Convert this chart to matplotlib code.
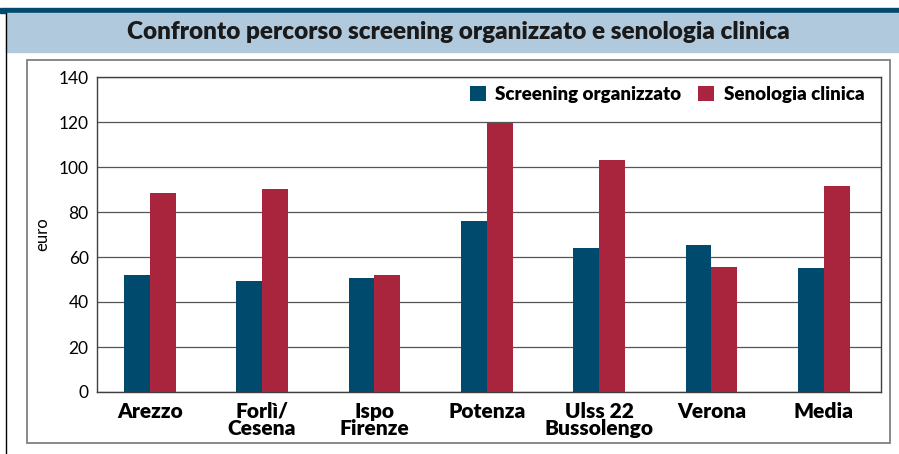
import numpy as np
import matplotlib.pyplot as plt
from matplotlib.patches import Rectangle

# Data
categories = ["Arezzo", "Forlì/\nCesena", "Ispo\nFirenze", "Potenza",
              "Ulss 22\nBussolengo", "Verona", "Media"]
screening = [52, 49.3, 50.7, 76, 64, 65.3, 55.1]
senologia = [88.4, 90.2, 52, 119.6, 103.1, 55.6, 91.6]
yticks = [0, 20, 40, 60, 80, 100, 120, 140]

blue = "#004a6d"
red = "#a8253d"

plt.rcParams['font.family'] = ['Lato', 'DejaVu Sans']

W, H = 899, 454
fig = plt.figure(figsize=(W / 100, H / 100), dpi=100)

def box(x0, y0, x1, y1):
    # pixel coords (top-left origin) -> figure fraction
    return [x0 / W, 1 - y1 / H, (x1 - x0) / W, (y1 - y0) / H]

# Header bands
fig.patches.append(Rectangle((0, 1 - 13 / H), 1, 5 / H, transform=fig.transFigure,
                             color="#004a6d", zorder=0))
fig.patches.append(Rectangle((6 / W, 1 - 52 / H), 1, 39 / H, transform=fig.transFigure,
                             color="#b0c9dd", zorder=0))
fig.text(458 / W, 1 - 32 / H, "Confronto percorso screening organizzato e senologia clinica",
         ha="center", va="center", fontsize=17.5, fontweight="heavy", color="#1a1a1a")

# Left black rule
fig.lines.append(plt.Line2D([6 / W, 6 / W], [0, 1 - 13 / H], transform=fig.transFigure,
                            color="black", lw=1))
# Inner gray frame
fig.patches.append(Rectangle((27 / W, 1 - 443 / H), 863 / W, 383 / H, transform=fig.transFigure,
                             fill=False, edgecolor="#808080", lw=1.3))

ax = fig.add_axes(box(97, 77, 881, 392))
x = np.arange(len(categories))
w = 0.23
ax.bar(x - w / 2, screening, w, color=blue, label="Screening organizzato", zorder=3)
ax.bar(x + w / 2, senologia, w, color=red, label="Senologia clinica", zorder=3)

ax.set_xlim(-0.47, 6.51)
ax.set_ylim(0, 140)
ax.set_yticks(yticks)
ax.set_yticklabels([str(t) for t in yticks], fontsize=12.5)
ax.set_xticks(x)
ax.set_xticklabels(categories, fontsize=15, fontweight="heavy", linespacing=0.9)
ax.tick_params(axis="both", length=0, pad=6)
ax.tick_params(axis="x", pad=7)
ax.grid(axis="y", color="#555555", lw=0.9, zorder=0)
for s in ax.spines.values():
    s.set_color("#404040")
    s.set_linewidth(1)
ax.set_ylabel("euro", fontsize=12, labelpad=6)

ax.legend(loc="upper right", ncol=2, frameon=False, handlelength=0.85,
          handleheight=0.85, columnspacing=0.9, handletextpad=0.5,
          prop={"weight": "heavy", "size": 13.5}, bbox_to_anchor=(1.0, 1.025))

fig.savefig("out.png", dpi=100)
